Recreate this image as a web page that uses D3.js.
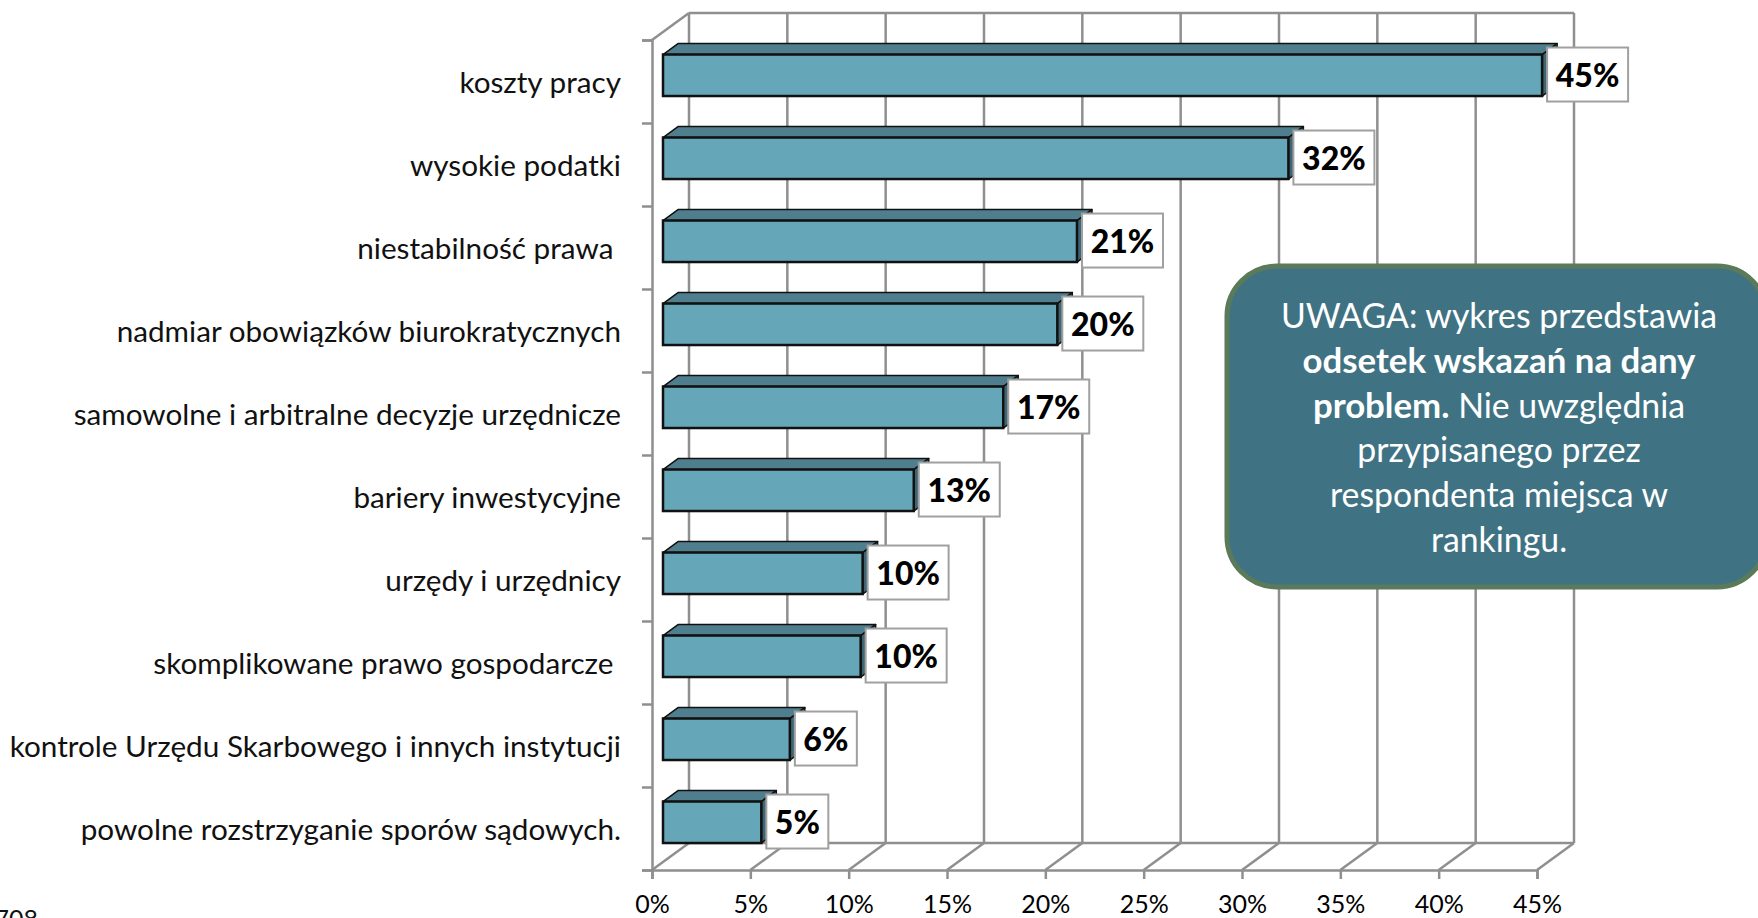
<!DOCTYPE html>
<html>
<head>
<meta charset="utf-8">
<script src="https://cdn.jsdelivr.net/npm/d3@7"></script>
<style>
  html, body { margin: 0; padding: 0; background: #fff; overflow: hidden; }
  text { font-family: Lato, "Open Sans", sans-serif; white-space: pre; }
</style>
</head>
<body>
<svg id="chart" width="1758" height="918"></svg>
<script>
// Data
const categories = [
  "koszty pracy",
  "wysokie podatki",
  "niestabilność prawa ",
  "nadmiar obowiązków biurokratycznych",
  "samowolne i arbitralne decyzje urzędnicze",
  "bariery inwestycyjne",
  "urzędy i urzędnicy",
  "skomplikowane prawo gospodarcze ",
  "kontrole Urzędu Skarbowego i innych instytucji",
  "powolne rozstrzyganie sporów sądowych."
];
const values = [44.7, 31.8, 21.05, 20.05, 17.3, 12.75, 10.15, 10.05, 6.45, 5.0];
const valueLabels = ["45%", "32%", "21%", "20%", "17%", "13%", "10%", "10%", "6%", "5%"];
const xTicks = [0, 5, 10, 15, 20, 25, 30, 35, 40, 45];
const noteLines = [
  [["UWAGA: wykres przedstawia", false]],
  [["odsetek wskazań na dany", true]],
  [["problem.", true], [" Nie uwzględnia", false]],
  [["przypisanego przez", false]],
  [["respondenta miejsca w", false]],
  [["rankingu.", false]]
];

const svg = d3.select("#chart");
const gridColor = "#8f8f8f";

// The plot is a fake 3D box: front plane + a back wall pushed up and right
const depthX = 37, depthY = -27;
const barDepthX = 15, barDepthY = -11;
const barInsetX = 11;

const x = d3.scaleLinear().domain([0, 45]).range([652, 1537]);
const y = d3.scaleBand().domain(categories).range([40, 870]).paddingInner(0.5).paddingOuter(0.25).align(0.35);
const yEdge = d3.scaleLinear().domain([0, categories.length]).range([40, 870]);

// back wall grid
const walls = svg.append("g").attr("fill", "none").attr("stroke", gridColor).attr("stroke-width", 2.5);
walls.selectAll("line.grid")
  .data(xTicks)
  .enter()
  .append("line")
  .attr("class", "grid")
  .attr("x1", d => x(d) + depthX)
  .attr("x2", d => x(d) + depthX)
  .attr("y1", yEdge(0) + depthY)
  .attr("y2", yEdge(10) + depthY);
// floor diagonals
walls.selectAll("line.floor")
  .data(xTicks)
  .enter()
  .append("line")
  .attr("class", "floor")
  .attr("x1", d => x(d))
  .attr("x2", d => x(d) + depthX)
  .attr("y1", yEdge(10))
  .attr("y2", yEdge(10) + depthY);
walls.append("line")
  .attr("x1", x(0) + depthX).attr("x2", x(45) + depthX)
  .attr("y1", yEdge(0) + depthY).attr("y2", yEdge(0) + depthY);
walls.append("line")
  .attr("x1", x(0) + depthX).attr("x2", x(45) + depthX)
  .attr("y1", yEdge(10) + depthY).attr("y2", yEdge(10) + depthY);
walls.append("line")
  .attr("x1", x(0)).attr("x2", x(0) + depthX)
  .attr("y1", yEdge(0)).attr("y2", yEdge(0) + depthY);

// axes
const xAxis = d3.axisBottom(x).tickValues(xTicks).tickSize(9).tickPadding(16).tickFormat(d => d + "%");
const xG = svg.append("g").attr("transform", `translate(0,${yEdge(10)})`).call(xAxis);
xG.select(".domain").attr("stroke", gridColor).attr("stroke-width", 2.5);
xG.selectAll(".tick line").attr("stroke", gridColor).attr("stroke-width", 2.5);
xG.selectAll(".tick text").attr("font-size", 25).attr("font-family", "Lato").attr("fill", "#000");

const yAxis = d3.axisLeft(yEdge).tickValues(d3.range(0, 11)).tickSize(10).tickFormat("");
const yG = svg.append("g").attr("transform", `translate(${x(0)},0)`).call(yAxis);
yG.select(".domain").attr("stroke", gridColor).attr("stroke-width", 2.5);
yG.selectAll(".tick line").attr("stroke", gridColor).attr("stroke-width", 2.5);

// category labels
svg.append("g").selectAll("text")
  .data(categories)
  .enter()
  .append("text")
  .attr("x", 621)
  .attr("y", d => y(d) + y.bandwidth() / 2 + 18)
  .attr("text-anchor", "end")
  .attr("font-size", 29.7)
  .attr("fill", "#111")
  .text(d => d);

// bars
const bars = svg.append("g").selectAll("g")
  .data(values)
  .enter()
  .append("g")
  .attr("transform", (d, i) => `translate(${x(0) + barInsetX},${y(categories[i])})`);

const len = d => x(d) - x(0);
const h = y.bandwidth();

bars.append("path") // top face
  .attr("fill", "#4f7f8f")
  .attr("stroke", "#111")
  .attr("stroke-width", 1.5)
  .attr("stroke-linejoin", "round")
  .attr("d", d => `M0,0L${barDepthX},${barDepthY}H${len(d) + barDepthX}L${len(d)},0Z`);
bars.append("path") // end face
  .attr("fill", "#3d6573")
  .attr("stroke", "#111")
  .attr("stroke-width", 1.5)
  .attr("stroke-linejoin", "round")
  .attr("d", d => `M${len(d)},0L${len(d) + barDepthX},${barDepthY}V${h + barDepthY}L${len(d)},${h}Z`);
bars.append("rect") // front face
  .attr("width", d => len(d))
  .attr("height", h)
  .attr("fill", "#66a6b9")
  .attr("stroke", "#111")
  .attr("stroke-width", 2.5);

// value labels
const labelG = svg.append("g").selectAll("g")
  .data(values)
  .enter()
  .append("g")
  .attr("transform", (d, i) => `translate(${x(d) + barInsetX + 5},${y(categories[i]) - 7})`);

labelG.append("rect")
  .attr("width", (d, i) => valueLabels[i].length === 3 ? 81 : 62)
  .attr("height", 54)
  .attr("fill", "#fff")
  .attr("stroke", "#a0a0a0")
  .attr("stroke-width", 2);
labelG.append("text")
  .attr("x", (d, i) => (valueLabels[i].length === 3 ? 81 : 62) / 2)
  .attr("y", 39)
  .attr("text-anchor", "middle")
  .attr("font-size", 32)
  .attr("font-weight", 900)
  .attr("fill", "#000")
  .text((d, i) => valueLabels[i]);

// note box
svg.append("rect")
  .attr("x", 1227).attr("y", 266)
  .attr("width", 540).attr("height", 321)
  .attr("rx", 50).attr("ry", 50)
  .attr("fill", "#3f7384")
  .attr("stroke", "#5a7a5a")
  .attr("stroke-width", 5);

const note = svg.append("g").selectAll("text")
  .data(noteLines)
  .enter()
  .append("text")
  .attr("x", 1499)
  .attr("y", (d, i) => 328 + i * 44.8)
  .attr("text-anchor", "middle")
  .attr("font-size", 33.8)
  .attr("fill", "#fff");
note.selectAll("tspan")
  .data(d => d)
  .enter()
  .append("tspan")
  .attr("font-weight", d => d[1] ? 700 : 400)
  .attr("font-size", d => d[1] ? 34.8 : 33.8)
  .text(d => d[0]);

// cut-off fragment at the bottom left edge of the picture
svg.append("text")
  .attr("x", 38).attr("y", 928)
  .attr("text-anchor", "end")
  .attr("font-size", 25)
  .attr("fill", "#111")
  .text("708");
</script>
</body>
</html>
